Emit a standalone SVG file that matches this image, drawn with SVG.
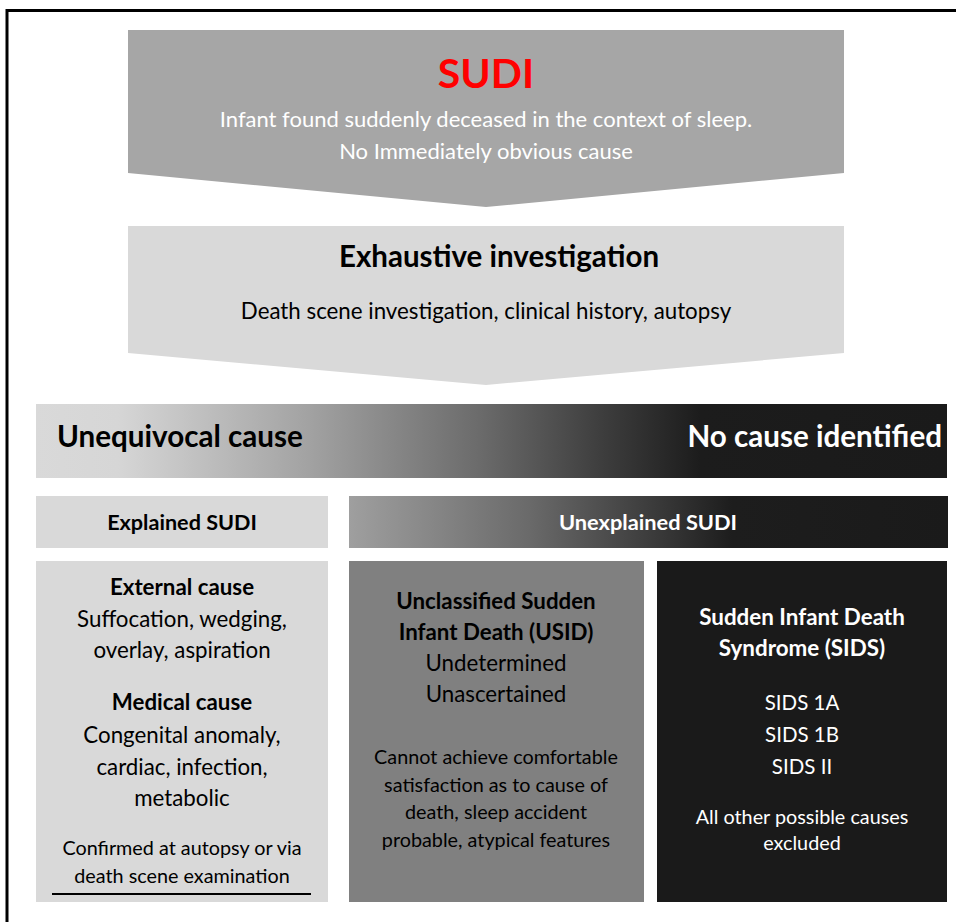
<svg xmlns="http://www.w3.org/2000/svg" width="956" height="922" viewBox="0 0 956 922">
<defs>
<linearGradient id="gBar" x1="36" y1="0" x2="947" y2="0" gradientUnits="userSpaceOnUse">
<stop offset="0" stop-color="#d9d9d9"/>
<stop offset="0.09" stop-color="#d6d6d6"/>
<stop offset="0.3" stop-color="#a2a2a2"/>
<stop offset="0.49" stop-color="#6a6a6a"/>
<stop offset="0.62" stop-color="#3e3e3e"/>
<stop offset="0.73" stop-color="#1c1c1c"/>
<stop offset="1" stop-color="#1a1a1a"/>
</linearGradient>
<linearGradient id="gUnex" x1="349" y1="0" x2="948" y2="0" gradientUnits="userSpaceOnUse">
<stop offset="0" stop-color="#9f9f9f"/>
<stop offset="0.3" stop-color="#6a6a6a"/>
<stop offset="0.64" stop-color="#1d1d1d"/>
<stop offset="1" stop-color="#1a1a1a"/>
</linearGradient>
<style>
text{font-family:Lato,"Open Sans","Liberation Sans",sans-serif;text-anchor:middle}
.b{font-weight:bold}
.w{fill:#ffffff}
.k{fill:#000000}
</style>
</defs>
<path d="M7,922 V10.5 H956" fill="none" stroke="#000" stroke-width="3"/>
<g id="sudi">
<polygon points="128,30 844,30 844,173 486,207 128,173" fill="#a6a6a6"/>
<text x="486" y="88" class="b" font-size="41" fill="#ff0000">SUDI</text>
<text x="486" y="127" font-size="22" class="w">Infant found suddenly deceased in the context of sleep.</text>
<text x="486" y="159" font-size="22" class="w">No Immediately obvious cause</text>
</g>
<g id="exhaustive">
<polygon points="128,226 844,226 844,353 486,385 128,353" fill="#d9d9d9"/>
<text x="499" y="267" class="b k" font-size="29.5">Exhaustive investigation</text>
<text x="486" y="319" class="k" font-size="22.3">Death scene investigation, clinical history, autopsy</text>
</g>
<g id="cause-bar">
<rect x="36" y="404" width="911" height="74" fill="url(#gBar)"/>
<text x="57" y="447" class="b k" font-size="29.6" style="text-anchor:start">Unequivocal cause</text>
<text x="942" y="447" class="b w" font-size="29.6" style="text-anchor:end">No cause identified</text>
</g>
<g id="explained">
<rect x="36" y="496" width="292" height="52" fill="#d9d9d9"/>
<text x="182" y="530" class="b k" font-size="21.6">Explained SUDI</text>
</g>
<g id="unexplained">
<rect x="349" y="496" width="599" height="52" fill="url(#gUnex)"/>
<text x="648" y="530" class="b w" font-size="21.8">Unexplained SUDI</text>
</g>
<g id="external-medical">
<rect x="36" y="561" width="292" height="341" fill="#d9d9d9"/>
<text x="182" y="595" class="b k" font-size="22.3">External cause</text>
<text x="182" y="627" class="k" font-size="22.3">Suffocation, wedging,</text>
<text x="182" y="658" class="k" font-size="22.3">overlay, aspiration</text>
<text x="182" y="710" class="b k" font-size="22.3">Medical cause</text>
<text x="182" y="743" class="k" font-size="22.3">Congenital anomaly,</text>
<text x="182" y="775" class="k" font-size="22.3">cardiac, infection,</text>
<text x="182" y="806" class="k" font-size="22.3">metabolic</text>
<text x="182" y="855" class="k" font-size="19.8">Confirmed at autopsy or via</text>
<text x="182" y="883" class="k" font-size="19.8">death scene examination</text>
<line x1="52" y1="894" x2="311" y2="894" stroke="#000" stroke-width="2"/>
</g>
<g id="usid">
<rect x="349" y="561" width="295" height="341" fill="#808080"/>
<text x="496" y="609" class="b k" font-size="22.3">Unclassified Sudden</text>
<text x="496" y="640" class="b k" font-size="22.3">Infant Death (USID)</text>
<text x="496" y="671" class="k" font-size="22.3">Undetermined</text>
<text x="496" y="702" class="k" font-size="22.3">Unascertained</text>
<text x="496" y="764" class="k" font-size="19.8">Cannot achieve comfortable</text>
<text x="496" y="792" class="k" font-size="19.8">satisfaction as to cause of</text>
<text x="496" y="819" class="k" font-size="19.8">death, sleep accident</text>
<text x="496" y="847" class="k" font-size="19.8">probable, atypical features</text>
</g>
<g id="sids">
<rect x="657" y="561" width="290" height="341" fill="#1a1a1a"/>
<text x="802" y="625" class="b w" font-size="22.4">Sudden Infant Death</text>
<text x="802" y="656" class="b w" font-size="22.4">Syndrome (SIDS)</text>
<text x="802" y="710" class="w" font-size="20.5">SIDS 1A</text>
<text x="802" y="742" class="w" font-size="20.5">SIDS 1B</text>
<text x="802" y="774" class="w" font-size="20.5">SIDS II</text>
<text x="802" y="824" class="w" font-size="19.8">All other possible causes</text>
<text x="802" y="850" class="w" font-size="19.8">excluded</text>
</g>
<g id="connectors"></g>
</svg>
